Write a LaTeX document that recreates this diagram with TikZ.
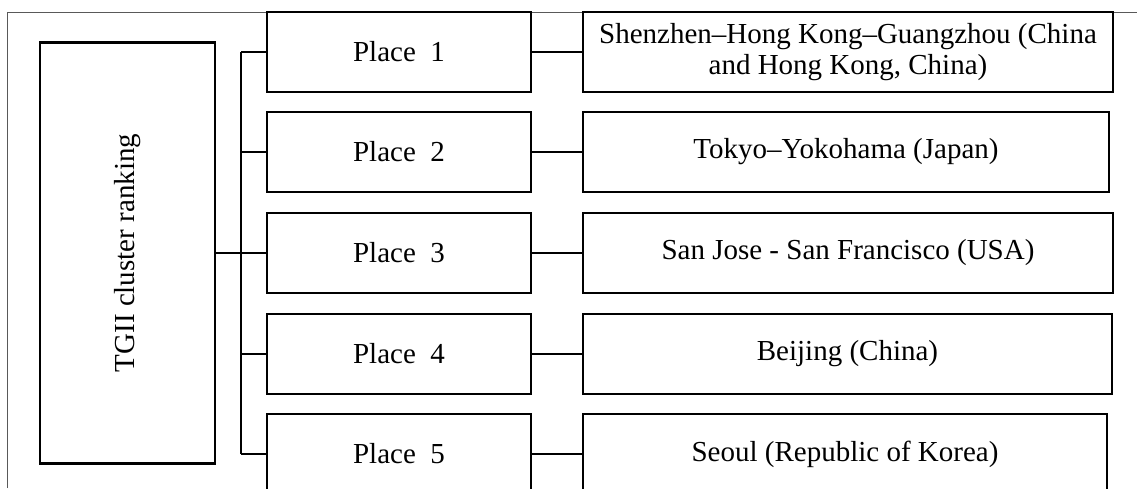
\documentclass[tikz,border=0pt]{standalone}
\usepackage{fontspec}
\setmainfont{Liberation Serif}
\begin{document}
\begin{tikzpicture}[x=1pt,y=-1pt,
  box/.style={draw, line width=2.2pt, inner sep=0pt, align=center,
    font=\fontsize{29}{31}\selectfont},
  conn/.style={line width=2.2pt},
  frame/.style={draw=black!65, line width=1pt}]
\useasboundingbox (0,0) rectangle (1137,488);
\clip (0,0) rectangle (1137,488);
\draw[frame] (7,488) -- (7,12) -- (1137,12);
\node[box, minimum width=175pt, minimum height=421pt] (tgii) at (127.5,253)
  {\rotatebox{90}{TGII cluster ranking}};
\foreach \i/\y/\r/\t in {
  1/52/1113/{Shenzhen–Hong Kong–Guangzhou (China\\and Hong Kong, China)},
  2/152/1109/{Tokyo–Yokohama (Japan)},
  3/253/1113/{San Jose - San Francisco (USA)},
  4/354/1112/{Beijing (China)},
  5/454/1107/{Seoul (Republic of Korea)}}{
  \node[box, minimum width=264pt, minimum height=80.5pt] (p\i) at (399,\y) {Place~~\i};
  \pgfmathsetmacro{\w}{\r-583}
  \pgfmathsetmacro{\c}{(\r+583)/2}
  \node[box, minimum width=\w pt, minimum height=80.5pt] (r\i) at (\c,\y) {\t};
  \draw[conn] (p\i.east) -- (r\i.west);
}
\coordinate (bus) at (241,0);
\draw[conn] (p1.west -| bus) -- (p5.west -| bus);
\draw[conn] (tgii.east) -- (tgii.east -| bus);
\foreach \i in {1,...,5}{
  \draw[conn] (p\i.west -| bus) -- (p\i.west);
}
\end{tikzpicture}
\end{document}
